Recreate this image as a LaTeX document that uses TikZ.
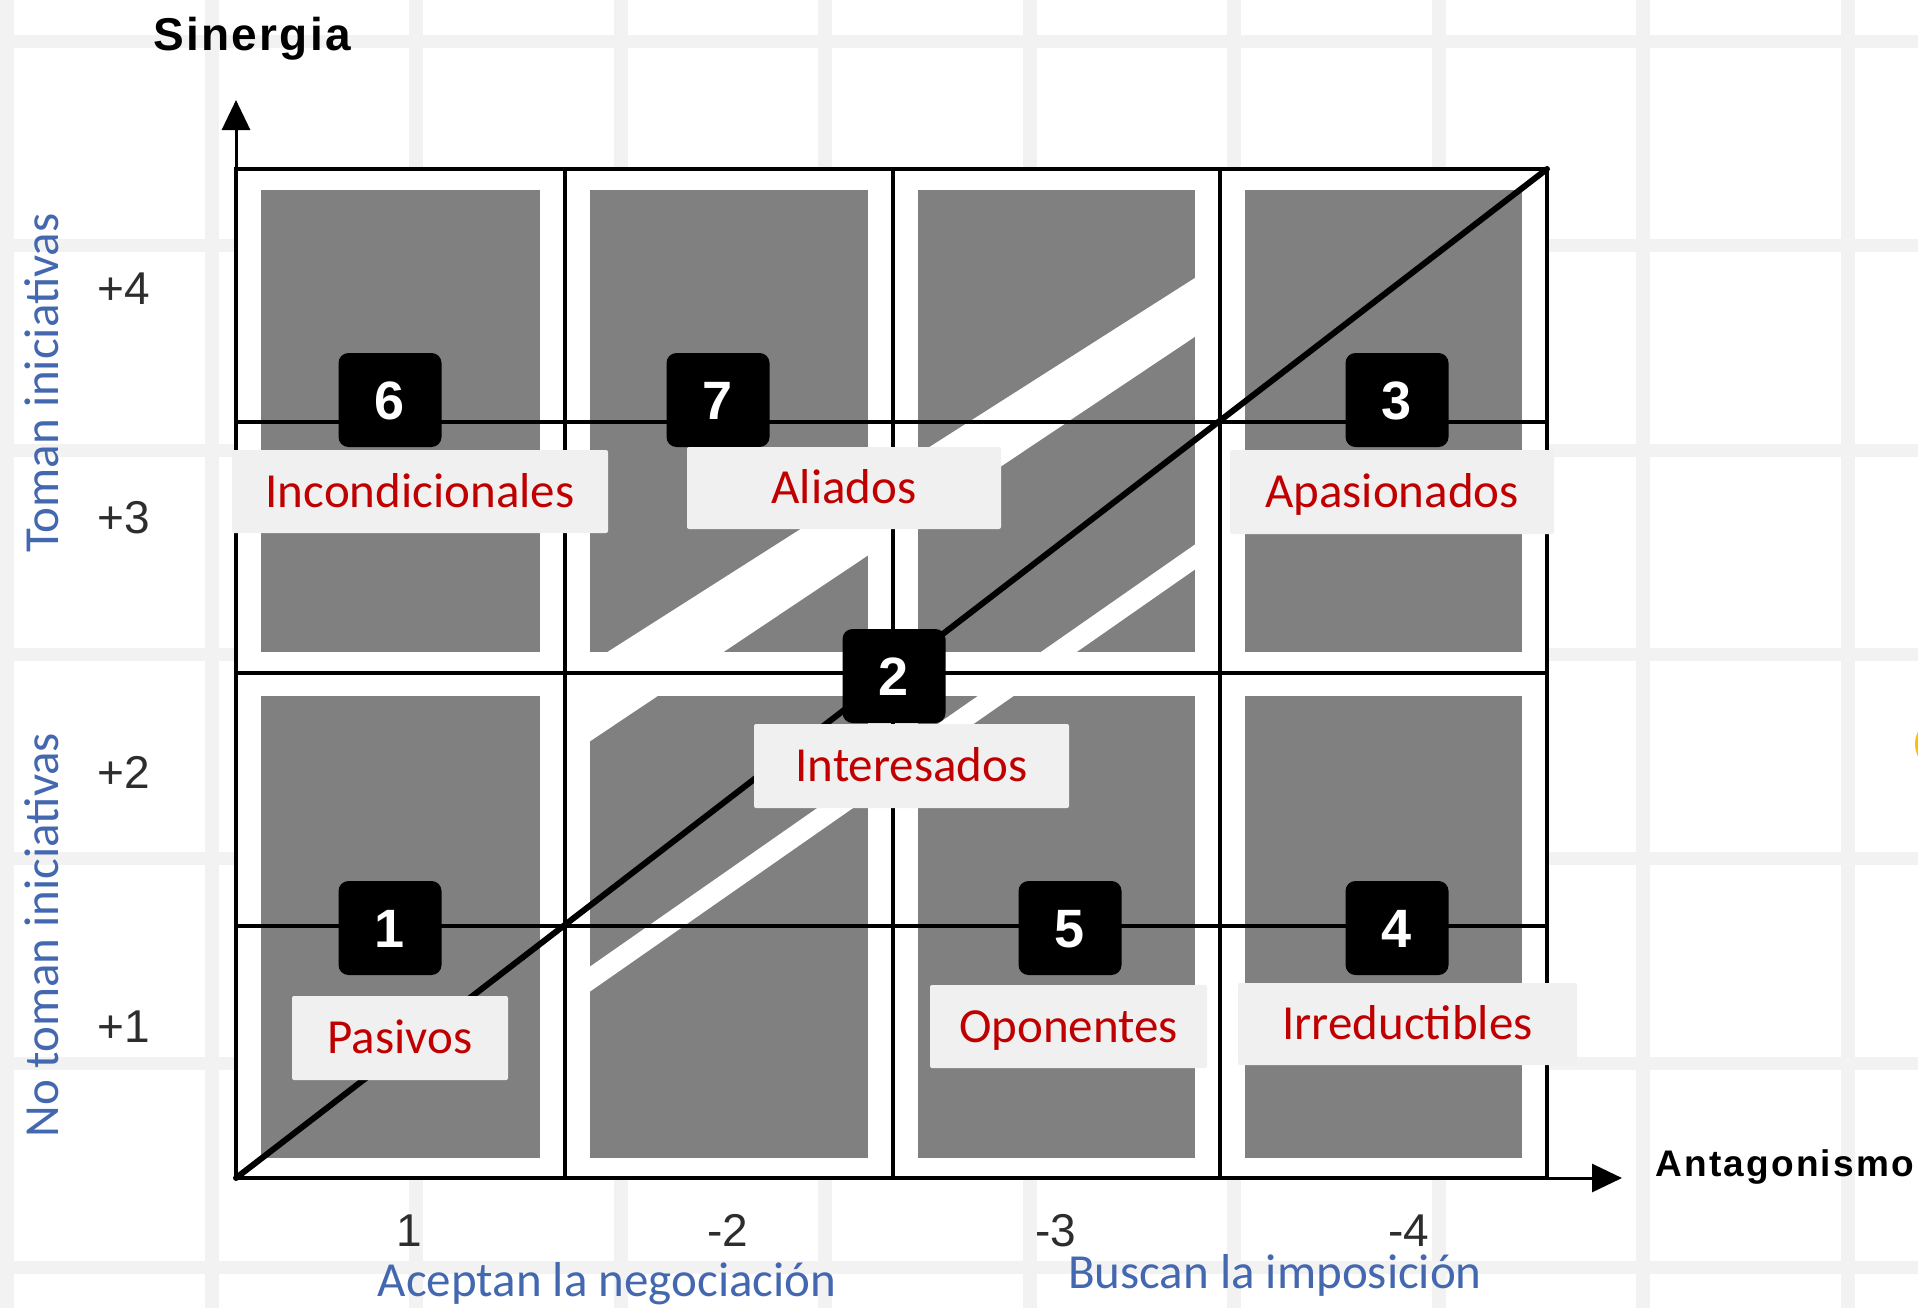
\documentclass[tikz,border=0pt]{standalone}
\usepackage{fontspec}
\setmainfont{Liberation Sans}
\newfontfamily\calib{Carlito}
\newfontfamily\sinfont{Liberation Sans}[LetterSpace=5]
\newfontfamily\antfont{Liberation Sans}[LetterSpace=6]
\usetikzlibrary{arrows.meta}

\definecolor{bandg}{RGB}{242,242,242}
\definecolor{cellg}{RGB}{128,128,128}
\definecolor{lblg}{RGB}{240,240,240}
\definecolor{lblred}{RGB}{192,0,0}
\definecolor{axblue}{RGB}{68,104,176}
\definecolor{tickc}{RGB}{45,45,45}
\definecolor{markc}{RGB}{255,192,0}

\tikzset{
  gridline/.style={line width=1.7pt, draw=black},
  diagline/.style={line width=3pt, draw=black, line cap=round},
  axisline/.style={line width=1.5pt, draw=black, -{Triangle[length=15pt,width=14pt]}},
  numbox/.style={fill=black, rounded corners=5pt, minimum width=51.5pt, minimum height=47pt,
    inner sep=0pt, text=white, font=\bfseries\fontsize{27}{32}\selectfont,
    text height=19.3pt, text depth=0pt},
  lblbox/.style={fill=lblg, rounded corners=1pt, inner sep=0pt, text=lblred,
    font=\calib\fontsize{24.5}{29}\selectfont, text height=15.8pt, text depth=0pt},
  ticklbl/.style={text=tickc, inner sep=0pt, font=\fontsize{23}{28}\selectfont,
    text height=16.5pt, text depth=0pt},
  bluelbl/.style={text=axblue, inner sep=0pt, font=\calib\fontsize{24.5}{29}\selectfont,
    text height=15.8pt, text depth=4pt},
  axtitle/.style={text=black, inner sep=0pt}
}

\begin{document}
\begin{tikzpicture}[x=0.5pt,y=-0.5pt]
% background spreadsheet grid
\fill[white] (0,0) rectangle (1918,1308);
\foreach \k in {0,...,9} \fill[bandg] ({204.5*\k},0) rectangle ({204.5*\k+14},1308);
\foreach \k in {0,...,6} \fill[bandg] (0,{35+204.3*\k}) rectangle (1918,{48+204.3*\k});
\useasboundingbox (0,0) rectangle (1918,1308);

% small cut-off mark at right edge
\begin{scope}
  \clip (0,0) rectangle (1918,1308);
  \fill[markc] (1929,744) ellipse [x radius=7pt, y radius=10pt];
\end{scope}

% chart area
\coordinate (O) at (236,1178);
\coordinate (TL) at (236,169);
\coordinate (TR) at (1547,169);
\coordinate (BR) at (1547,1178);
\coordinate (ytip) at (236,100);
\coordinate (xtip) at (1622,1178);
\fill[white] (TL) rectangle (BR);

% gray cells
\foreach \xa/\xb in {261/540, 590/868, 918/1195, 1245/1522} {
  \fill[cellg] (\xa,190) rectangle (\xb,652);
  \fill[cellg] (\xa,696) rectangle (\xb,1158);
}

% white diagonal stripes in the middle columns
\begin{scope}
  \clip (565,169) rectangle (1220,1178);
  \fill[white] (565,679) -- (1220,262) -- (1220,320) -- (565,758) -- cycle;
  \fill[white] (565,984) -- (1220,527) -- (1220,552) -- (565,1009) -- cycle;
\end{scope}

% grid lines
\draw[gridline] (TL) rectangle (BR);
\foreach \x in {565,893,1220} \draw[gridline] (\x,169) -- (\x,1178);
\draw[gridline] (236,673) -- (1547,673);
\draw[gridline] (236,422) -- (1547,422);
\draw[gridline] (236,926) -- (1547,926);

% diagonal
\draw[diagline] (O) -- (TR);

% axes
\draw[axisline] (TL) -- (ytip);
\draw[axisline] (BR) -- (xtip);

% number boxes
\node[numbox] (n6) at (390,400) {6};
\node[numbox] (n7) at (718,400) {7};
\node[numbox] (n3) at (1397,400) {3};
\node[numbox] (n2) at (894,676) {2};
\node[numbox] (n1) at (390,928) {1};
\node[numbox] (n5) at (1070,928) {5};
\node[numbox] (n4) at (1397,928) {4};

% category labels
\node[lblbox, minimum width=188pt, minimum height=41.5pt] (lInc) at (420,491.5) {Incondicionales};
\node[lblbox, minimum width=157pt, minimum height=41pt] (lAli) at (844,488) {Aliados};
\node[lblbox, minimum width=162pt, minimum height=42pt] (lApa) at (1392,492) {Apasionados};
\node[lblbox, minimum width=157.5pt, minimum height=42pt] (lInt) at (911.5,766) {Interesados};
\node[lblbox, minimum width=108pt, minimum height=42pt] (lPas) at (400,1038) {Pasivos};
\node[lblbox, minimum width=138.5pt, minimum height=41.5pt] (lOpo) at (1068.5,1026.5) {Oponentes};
\node[lblbox, minimum width=169.5pt, minimum height=41pt] (lIrr) at (1407.5,1024) {Irreductibles};

% axis titles
\node[axtitle, anchor=base, font=\sinfont\bfseries\fontsize{23}{27}\selectfont] (tSin) at (252,50) {Sinergia};
\node[axtitle, anchor=base west, font=\antfont\bfseries\fontsize{18.5}{22}\selectfont] (tAnt) at (1655,1176) {Antagonismo};

% tick labels
\node[ticklbl, anchor=base west] (y4) at (97,304) {+4};
\node[ticklbl, anchor=base west] (y3) at (97,533) {+3};
\node[ticklbl, anchor=base west] (y2) at (97,788) {+2};
\node[ticklbl, anchor=base west] (y1) at (97,1042) {+1};
\node[ticklbl, anchor=base] (x1) at (409,1246) {1};
\node[ticklbl, anchor=base] (x2) at (728,1246) {-2};
\node[ticklbl, anchor=base] (x3) at (1056,1246) {-3};
\node[ticklbl, anchor=base] (x4) at (1409,1246) {-4};

% blue group labels
\node[bluelbl, rotate=90, anchor=base] (gTom) at (58,383) {Toman iniciativas};
\node[bluelbl, rotate=90, anchor=base] (gNoT) at (58,935) {No toman iniciativas};
\node[bluelbl, anchor=base] (gAce) at (607,1296) {Aceptan la negociación};
\node[bluelbl, anchor=base] (gBus) at (1275,1288) {Buscan la imposición};
\end{tikzpicture}
\end{document}
